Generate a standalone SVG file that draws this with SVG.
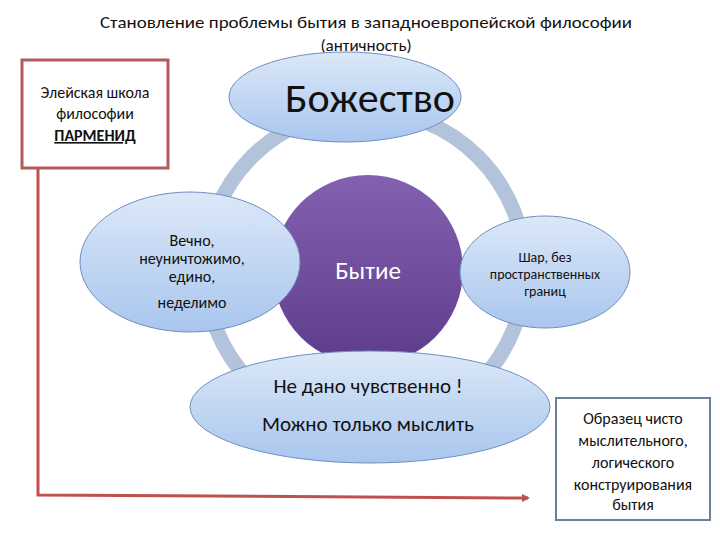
<svg xmlns="http://www.w3.org/2000/svg" width="720" height="540" viewBox="0 0 720 540">
<defs>
<linearGradient id="lb" x1="0" y1="0" x2="0" y2="1"><stop offset="0" stop-color="#dce8f8"/><stop offset="1" stop-color="#a9c6ee"/></linearGradient>
<linearGradient id="pu" x1="0" y1="0" x2="0" y2="1"><stop offset="0" stop-color="#8460b0"/><stop offset="1" stop-color="#5e3c8c"/></linearGradient>
<marker id="ah" markerWidth="8" markerHeight="8" refX="6" refY="4" orient="auto" markerUnits="userSpaceOnUse"><path d="M0,0 L8,4 L0,8 z" fill="#c0504d"/></marker>
<style>
.el{fill:url(#lb);stroke:#6f8fc0;stroke-width:1}
.t{font-family:Calibri,Carlito,"Liberation Sans",sans-serif;fill:#111;text-anchor:middle}
</style>
</defs>
<text class="t" x="366" y="28" font-size="17" textLength="532" lengthAdjust="spacingAndGlyphs">Становление проблемы бытия в западноевропейской философии</text>
<text class="t" x="366" y="51" font-size="17">(античность)</text>
<circle cx="365" cy="270" r="160" fill="none" stroke="#b4c3dc" stroke-width="15"/>
<g id="connectors">
<path d="M38,168 L38,495 L528,498" fill="none" stroke="#c0504d" stroke-width="3" marker-end="url(#ah)"/>
</g>
<g id="box-left"><rect x="22" y="60" width="146" height="108" fill="#fff" stroke="#b45a5a" stroke-width="3"/>
<text class="t" x="95" y="98" font-size="16">Элейская школа</text>
<text class="t" x="95" y="119" font-size="16">философии</text>
<text class="t" x="95" y="141" font-size="16" font-weight="bold" text-decoration="underline">ПАРМЕНИД</text></g>
<g id="being"><circle cx="368" cy="270" r="95" fill="url(#pu)"/>
<text class="t" x="368" y="279" font-size="25" style="fill:#fff">Бытие</text></g>
<g id="god"><ellipse class="el" cx="345" cy="97" rx="116" ry="45"/>
<text class="t" x="370" y="112" font-size="42">Божество</text></g>
<g id="left"><ellipse class="el" cx="190" cy="262" rx="110" ry="70"/>
<text class="t" x="192" y="246" font-size="16">Вечно,</text>
<text class="t" x="192" y="264" font-size="16">неуничтожимо,</text>
<text class="t" x="192" y="282" font-size="16">едино,</text>
<text class="t" x="192" y="308" font-size="16">неделимо</text></g>
<g id="right"><ellipse class="el" cx="545" cy="272" rx="85" ry="56"/>
<text class="t" x="545" y="262" font-size="14">Шар, без</text>
<text class="t" x="545" y="279" font-size="14">пространственных</text>
<text class="t" x="545" y="296" font-size="14">границ</text></g>
<g id="bottom"><ellipse class="el" cx="370" cy="407" rx="180" ry="56"/>
<text class="t" x="368" y="393" font-size="21">Не дано чувственно !</text>
<text class="t" x="368" y="431" font-size="21">Можно только мыслить</text></g>
<g id="box-right"><rect x="556" y="398" width="154" height="122" fill="#fff" stroke="#6a829c" stroke-width="2"/>
<text class="t" x="633" y="424" font-size="16">Образец чисто</text>
<text class="t" x="633" y="446" font-size="16">мыслительного,</text>
<text class="t" x="633" y="468" font-size="16">логического</text>
<text class="t" x="633" y="490" font-size="16">конструирования</text>
<text class="t" x="633" y="510" font-size="16">бытия</text></g>
</svg>
